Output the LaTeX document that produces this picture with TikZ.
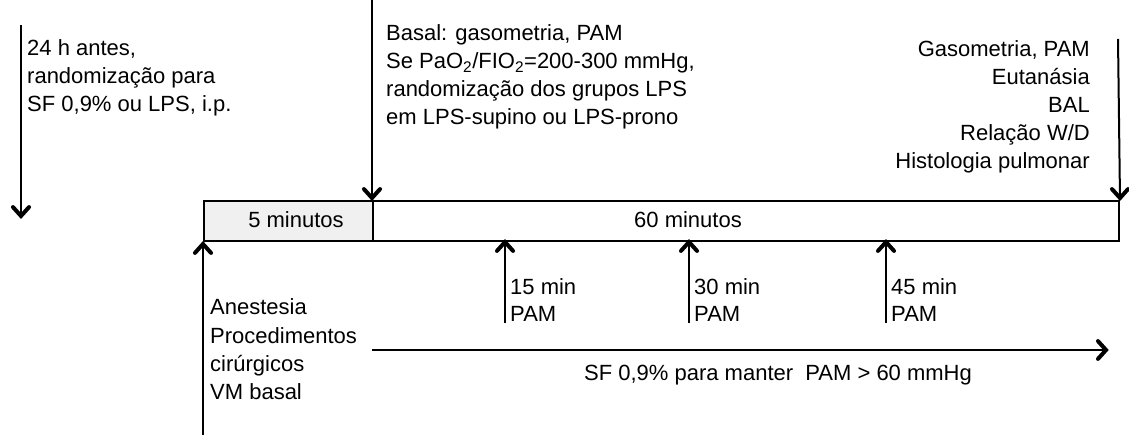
\documentclass[tikz,border=0pt]{standalone}
\usepackage{fontspec}
\setmainfont{Liberation Sans}
\begin{document}
\begin{tikzpicture}[x=1pt,y=-1pt,
  txt/.style={inner sep=0pt,font=\fontsize{22}{28}\selectfont,text=black},
  ln/.style={line width=2pt},
  headst/.style={line width=4pt,line cap=round,line join=miter},
  boxst/.style={draw,line width=2pt,inner sep=0pt,anchor=north west,minimum height=40pt}]
\useasboundingbox (0,0) rectangle (1129,435);
% timeline boxes
\node[boxst,fill=black!6,minimum width=169pt] (box5) at (203,200) {};
\node[boxst,fill=white,minimum width=746pt] (box60) at (372,200) {};
\node[txt,anchor=base] (t5) at (296,228) {5 minutos};
\node[txt,anchor=base] (t60) at (688,228) {60 minutos};
% top-left arrow
\coordinate (a1s) at (21,25);
\coordinate (a1e) at (21,216);
\draw[ln] (a1s) -- (a1e);
\foreach \t [count=\i] in {{24 h antes,},{randomização para},{SF 0,9\% ou LPS, i.p.}}
  \node[txt,anchor=base west] (tl\i) at (27,{56+28*(\i-1)}) {\t};
% basal arrow
\coordinate (a2s) at (372,0);
\draw[ln] (a2s) -- (box60.north west);
\foreach \t [count=\i] in {{Basal: gasometria, PAM},{Se PaO\textsubscript{2}/FIO\textsubscript{2}=200-300 mmHg,},{randomização dos grupos LPS},{em LPS-supino ou LPS-prono}}
  \node[txt,anchor=base west] (tb\i) at (386,{41+28*(\i-1)}) {\t};
% end arrow
\coordinate (a3s) at (1118,39);
\draw[ln] (a3s) -- (box60.north east);
\foreach \t [count=\i] in {{Gasometria, PAM},{Eutanásia},{BAL},{Relação W/D},{Histologia pulmonar}}
  \node[txt,anchor=base east] (tr\i) at (1090,{57+28*(\i-1)}) {\t};
% start arrow
\coordinate (a4s) at (203,435);
\draw[ln] (a4s) -- (box5.south west);
\foreach \t [count=\i] in {{Anestesia},{Procedimentos},{cirúrgicos},{VM basal}}
  \node[txt,anchor=base west] (ta\i) at (210,{315+28*(\i-1)}) {\t};
% interval arrows
\foreach \x/\m [count=\i] in {505/15,689/30,886/45}{
  \coordinate (m\i) at (\x,323);
  \coordinate (mt\i) at (\x,242);
  \draw[ln] (m\i) -- (mt\i);
  \node[txt,anchor=base west] (mm\i) at (\x+5,295) {\m\ min};
  \node[txt,anchor=base west] (mp\i) at (\x+5,322) {PAM};
}
% fluid arrow
\coordinate (fs) at (372,350);
\coordinate (fe) at (1106,350);
\draw[ln] (fs) -- (fe);
\node[txt,anchor=base] (fl) at (778,380) {SF 0,9\% para manter\ \ PAM > 60 mmHg};
% arrow heads (chevrons)
\coordinate (h2) at ([yshift=2pt]box60.north west);
\coordinate (h3) at ([yshift=2pt]box60.north east);
\coordinate (h4) at ([yshift=-2pt]box5.south west);
\foreach \p in {a1e,h2,h3}
  \draw[headst] (\p) ++(228:12) -- (\p) -- ++(312:12);
\foreach \p in {h4,mt1,mt2,mt3}
  \draw[headst] (\p) ++(48:12) -- (\p) -- ++(132:12);
\draw[headst] (fe) ++(132:12) -- (fe) -- ++(228:12);
\end{tikzpicture}
\end{document}
